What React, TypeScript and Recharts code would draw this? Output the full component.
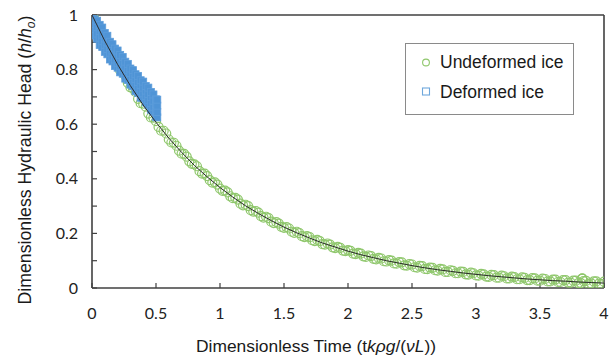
import React from 'react';
import { ScatterChart, Scatter, XAxis, YAxis, ReferenceLine, Legend } from 'recharts';

const undeformedT = [
  0.02, 0.06, 0.10, 0.14, 0.18, 0.22, 0.26, 0.30, 0.34, 0.38, 0.42, 0.46, 0.50, 0.54, 0.58, 0.62, 0.66, 0.70, 0.74, 0.78,
  0.82, 0.86, 0.90, 0.94, 0.98, 1.02, 1.06, 1.10, 1.14, 1.18, 1.22, 1.26, 1.30, 1.34, 1.38, 1.42, 1.46, 1.50, 1.54, 1.58,
  1.62, 1.66, 1.70, 1.74, 1.78, 1.82, 1.86, 1.90, 1.94, 1.98, 2.02, 2.06, 2.10, 2.14, 2.18, 2.22, 2.26, 2.30, 2.34, 2.38,
  2.42, 2.46, 2.50, 2.54, 2.58, 2.62, 2.66, 2.70, 2.74, 2.78, 2.82, 2.86, 2.90, 2.94, 2.98, 3.02, 3.06, 3.10, 3.14, 3.18,
  3.22, 3.26, 3.30, 3.34, 3.38, 3.42, 3.46, 3.50, 3.54, 3.58, 3.62, 3.66, 3.70, 3.74, 3.78, 3.82, 3.86, 3.90, 3.94, 3.98,
  3.83, 3.83, 3.83,
];
const undeformedH = [
  0.985, 0.938, 0.912, 0.862, 0.842, 0.797, 0.778, 0.735, 0.718, 0.677, 0.664, 0.625, 0.611, 0.576, 0.566, 0.533, 0.521, 0.492, 0.481, 0.455,
  0.446, 0.419, 0.410, 0.386, 0.379, 0.356, 0.350, 0.329, 0.324, 0.303, 0.300, 0.280, 0.276, 0.258, 0.256, 0.238, 0.236, 0.220, 0.218, 0.202,
  0.201, 0.186, 0.186, 0.172, 0.172, 0.159, 0.159, 0.146, 0.147, 0.135, 0.136, 0.124, 0.126, 0.114, 0.117, 0.105, 0.108, 0.097, 0.100, 0.089,
  0.094, 0.082, 0.086, 0.075, 0.080, 0.069, 0.074, 0.064, 0.068, 0.059, 0.063, 0.054, 0.059, 0.049, 0.054, 0.045, 0.050, 0.041, 0.047, 0.038,
  0.043, 0.035, 0.040, 0.032, 0.037, 0.029, 0.035, 0.027, 0.033, 0.024, 0.031, 0.022, 0.029, 0.020, 0.027, 0.018, 0.026, 0.017, 0.024, 0.015,
  0.034, 0.034, 0.034,
];
const undeformedTb = [
  0.04, 0.08, 0.12, 0.16, 0.20, 0.24, 0.28, 0.32, 0.36, 0.40, 0.44, 0.48, 0.52, 0.56, 0.60, 0.64, 0.68, 0.72, 0.76, 0.80,
  0.84, 0.88, 0.92, 0.96, 1.00, 1.04, 1.08, 1.12, 1.16, 1.20, 1.24, 1.28, 1.32, 1.36, 1.40, 1.44, 1.48, 1.52, 1.56, 1.60,
  1.64, 1.68, 1.72, 1.76, 1.80, 1.84, 1.88, 1.92, 1.96, 2.00, 2.04, 2.08, 2.12, 2.16, 2.20, 2.24, 2.28, 2.32, 2.36, 2.40,
  2.44, 2.48, 2.52, 2.56, 2.60, 2.64, 2.68, 2.72, 2.76, 2.80, 2.84, 2.88, 2.92, 2.96, 3.00, 3.04, 3.08, 3.12, 3.16, 3.20,
  3.24, 3.28, 3.32, 3.36, 3.40, 3.44, 3.48, 3.52, 3.56, 3.60, 3.64, 3.68, 3.72, 3.76, 3.80, 3.84, 3.88, 3.92, 3.96, 4.00,
];
const undeformedHb = [
  0.958, 0.928, 0.882, 0.857, 0.814, 0.792, 0.751, 0.731, 0.693, 0.675, 0.639, 0.624, 0.590, 0.576, 0.544, 0.532, 0.503, 0.491, 0.464, 0.453,
  0.428, 0.419, 0.395, 0.387, 0.364, 0.357, 0.336, 0.330, 0.309, 0.305, 0.285, 0.282, 0.263, 0.261, 0.243, 0.241, 0.224, 0.223, 0.206, 0.206,
  0.190, 0.190, 0.175, 0.176, 0.161, 0.163, 0.149, 0.151, 0.137, 0.139, 0.126, 0.129, 0.116, 0.119, 0.107, 0.110, 0.098, 0.102, 0.090, 0.095,
  0.083, 0.088, 0.076, 0.081, 0.070, 0.075, 0.065, 0.070, 0.059, 0.065, 0.054, 0.060, 0.050, 0.056, 0.046, 0.052, 0.042, 0.048, 0.038, 0.045,
  0.035, 0.042, 0.032, 0.039, 0.029, 0.036, 0.027, 0.034, 0.024, 0.031, 0.022, 0.029, 0.020, 0.027, 0.018, 0.025, 0.016, 0.024, 0.016, 0.023,
];

const deformedT = [
  0.00, 0.02, 0.04, 0.06, 0.08, 0.10, 0.12, 0.14, 0.16, 0.18, 0.20, 0.22, 0.24, 0.26,
  0.28, 0.30, 0.32, 0.34, 0.36, 0.38, 0.40, 0.42, 0.44, 0.46, 0.48, 0.50, 0.51,
];
const deformedRow1H = [
  0.995, 0.984, 0.979, 0.964, 0.954, 0.934, 0.924, 0.902, 0.893, 0.877, 0.870, 0.854, 0.846, 0.829,
  0.821, 0.804, 0.798, 0.783, 0.777, 0.761, 0.756, 0.740, 0.734, 0.718, 0.709, 0.691, 0.690,
];
const deformedRow2H = [
  0.978, 0.967, 0.955, 0.942, 0.928, 0.914, 0.899, 0.883, 0.870, 0.859, 0.847, 0.836, 0.823, 0.811,
  0.799, 0.787, 0.776, 0.765, 0.754, 0.743, 0.734, 0.723, 0.711, 0.699, 0.686, 0.673, 0.668,
];
const deformedRow3H = [
  0.962, 0.948, 0.932, 0.918, 0.904, 0.891, 0.876, 0.862, 0.848, 0.837, 0.825, 0.814, 0.803, 0.791,
  0.779, 0.768, 0.756, 0.745, 0.733, 0.721, 0.713, 0.703, 0.689, 0.678, 0.664, 0.651, 0.645,
];
const deformedRow4H = [
  0.945, 0.925, 0.913, 0.890, 0.883, 0.865, 0.856, 0.837, 0.830, 0.813, 0.807, 0.790, 0.785, 0.767,
  0.762, 0.745, 0.739, 0.721, 0.715, 0.697, 0.696, 0.680, 0.671, 0.653, 0.646, 0.627, 0.625,
];

const fitT = [
  0, 0.1, 0.2, 0.3, 0.4, 0.5, 0.6, 0.7, 0.8, 0.9, 1.0, 1.1, 1.2, 1.3, 1.4, 1.5, 1.6, 1.7, 1.8, 1.9, 2.0,
  2.1, 2.2, 2.3, 2.4, 2.5, 2.6, 2.7, 2.8, 2.9, 3.0, 3.1, 3.2, 3.3, 3.4, 3.5, 3.6, 3.7, 3.8, 3.9, 4.0,
];
const fitH = [
  1, 0.905, 0.819, 0.741, 0.670, 0.607, 0.549, 0.497, 0.449, 0.407, 0.368, 0.333, 0.301, 0.273, 0.247, 0.223, 0.202, 0.183, 0.165, 0.150, 0.135,
  0.122, 0.111, 0.100, 0.091, 0.082, 0.074, 0.067, 0.061, 0.055, 0.050, 0.045, 0.041, 0.037, 0.033, 0.030, 0.027, 0.025, 0.022, 0.020, 0.018,
];

const xTicks = [0, 0.5, 1, 1.5, 2, 2.5, 3, 3.5, 4];
const yTicks = [0, 0.1, 0.2, 0.3, 0.4, 0.5, 0.6, 0.7, 0.8, 0.9, 1];
const yLabelTicks = [0, 0.2, 0.4, 0.6, 0.8, 1];
const seriesNames = ['Undeformed ice', 'Deformed ice'];

const GREEN = '#8fc76c';
const BLUE = '#4f94d6';
const AXIS = '#404040';
const TITLE_FONT = '"Liberation Sans", Arial, sans-serif';
const TICK_FONT = 'Lato, "Open Sans", sans-serif';

const undeformedData = [
  ...undeformedT.map((t, i) => ({ x: t, y: undeformedH[i] })),
  ...undeformedTb.map((t, i) => ({ x: t, y: undeformedHb[i] })),
];
const deformedData = [deformedRow4H, deformedRow3H, deformedRow2H, deformedRow1H].flatMap((row) =>
  deformedT.map((t, i) => ({ x: t, y: row[i] }))
);
const fitData = fitT.map((t, i) => ({ x: t, y: fitH[i] }));

const GreenCircle = (p: any) => (
  <circle cx={p.cx} cy={p.cy} r={4.5} fill="none" stroke={GREEN} strokeWidth={1.2} />
);
const BlueSquare = (p: any) => (
  <rect x={p.cx - 3.5} y={p.cy - 3.5} width={7} height={7} fill={BLUE} stroke="#5d9ddb" strokeWidth={0.8} />
);
const NoShape = () => <g />;

const LegendBox = () => (
  <svg width={169} height={72} style={{ display: 'block' }}>
    <rect x={0.5} y={0.5} width={168} height={71} fill="#fff" stroke="#8a8a8a" strokeWidth={1} />
    <circle cx={21} cy={19.5} r={3.4} fill="none" stroke={GREEN} strokeWidth={1.1} />
    <text x={35} y={25} fontFamily={TITLE_FONT} fontSize={17.5} fill="#1a1a1a">{seriesNames[0]}</text>
    <rect x={17.5} y={45} width={7} height={7} fill="none" stroke="#6fa8dc" strokeWidth={1.1} />
    <text x={35} y={55} fontFamily={TITLE_FONT} fontSize={17.5} fill="#1a1a1a">{seriesNames[1]}</text>
  </svg>
);

const XTitle = () => (
  <text x={316} y={352} textAnchor="middle" fontFamily={TITLE_FONT} fontSize={17.4} fill="#1a1a1a">
    Dimensionless Time (t
    <tspan fontStyle="italic">kρg</tspan>
    /(
    <tspan fontStyle="italic">νL</tspan>
    ))
  </text>
);

const YTitle = () => (
  <text
    x={30.5}
    y={160}
    textAnchor="middle"
    transform="rotate(-90, 30.5, 160)"
    fontFamily={TITLE_FONT}
    fontSize={17.7}
    fill="#1a1a1a"
  >
    Dimensionless Hydraulic Head (
    <tspan fontStyle="italic">h</tspan>/
    <tspan fontStyle="italic">h</tspan>
    <tspan fontStyle="italic" fontSize={12} dy={4}>o</tspan>
    <tspan dy={-4}>)</tspan>
  </text>
);

export default function App() {
  return (
    <div style={{ position: 'absolute', left: 0, top: 0, width: 616, height: 363, background: '#fff' }}>
      <ScatterChart width={616} height={363} margin={{ top: 15, right: 12, bottom: 45, left: 32 }}>
        <XAxis
          type="number"
          dataKey="x"
          domain={[0, 4]}
          ticks={xTicks}
          interval={0}
          allowDataOverflow
          stroke={AXIS}
          axisLine={{ stroke: AXIS, strokeWidth: 1.6 }}
          tickLine={{ stroke: AXIS, strokeWidth: 1.2 }}
          tickSize={-5}
          tickMargin={25}
          tick={{ fill: '#222', fontSize: 16, fontFamily: TICK_FONT }}
          height={30}
          label={{ content: () => <XTitle /> }}
        />
        <YAxis
          type="number"
          dataKey="y"
          domain={[0, 1]}
          ticks={yTicks}
          interval={0}
          allowDataOverflow
          width={60}
          stroke={AXIS}
          axisLine={{ stroke: AXIS, strokeWidth: 1.6 }}
          tickLine={{ stroke: AXIS, strokeWidth: 1.2 }}
          tickSize={-5}
          tickMargin={19}
          tick={{ fill: '#222', fontSize: 16, fontFamily: TICK_FONT }}
          tickFormatter={(v: number) => (yLabelTicks.some((t) => Math.abs(t - v) < 1e-6) ? String(v) : '')}
          label={{ content: () => <YTitle /> }}
        />
        <ReferenceLine y={1} stroke={AXIS} strokeWidth={1.6} />
        <ReferenceLine x={4} stroke={AXIS} strokeWidth={1.6} />
        <Scatter name={seriesNames[0]} data={undeformedData} shape={GreenCircle} isAnimationActive={false} />
        <Scatter name={seriesNames[1]} data={deformedData} shape={BlueSquare} isAnimationActive={false} />
        <Scatter
          name="fit"
          data={fitData}
          shape={NoShape}
          line={{ stroke: '#2a2a2a', strokeWidth: 1 }}
          lineType="joint"
          isAnimationActive={false}
          legendType="none"
        />
        <Legend
          layout="vertical"
          align="center"
          verticalAlign="middle"
          content={() => <LegendBox />}
          wrapperStyle={{ position: 'absolute', left: 405, top: 43, width: 169, height: 72 }}
        />
      </ScatterChart>
    </div>
  );
}
